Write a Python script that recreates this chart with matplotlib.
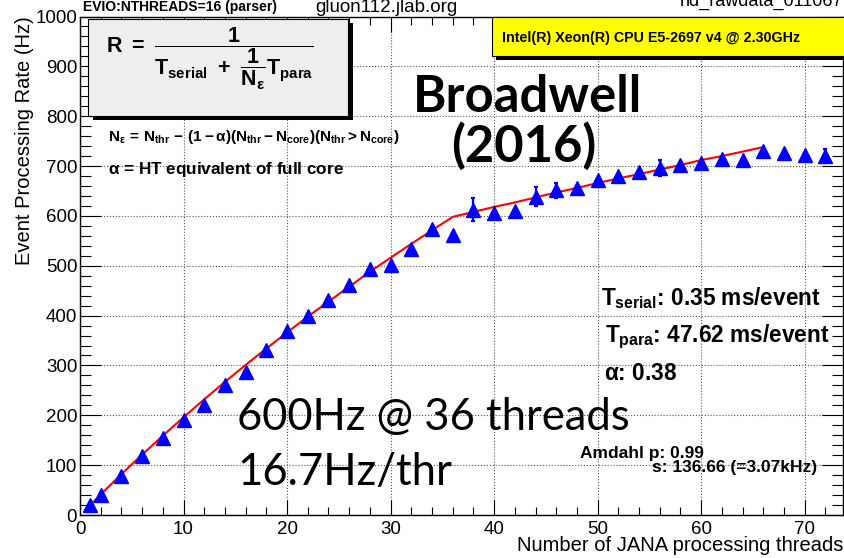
import matplotlib
matplotlib.use("Agg")
import matplotlib.pyplot as plt
from matplotlib.patches import Rectangle
from matplotlib.ticker import MultipleLocator

# measured rate vs number of threads
threads = [1, 2, 4, 6, 8, 10, 12, 14, 16, 18, 20, 22, 24, 26, 28, 30, 32, 34,
           36, 38, 40, 42, 44, 46, 48, 50, 52, 54, 56, 58, 60, 62, 64, 66,
           68, 70, 72]
rate = [20, 41, 78, 118, 154, 190, 220, 261, 287, 330, 369, 400, 432, 461,
        493, 502, 534, 573, 562, 612, 605, 610, 638, 651, 655, 672, 680, 689,
        697, 702, 707, 715, 713, 730, 727, 723, 720]
err_threads = [38, 44, 46, 56, 72]
err_rate = [612, 638, 651, 697, 720]
err_size = [23, 19, 15, 16, 14]

# fitted curve
fit_threads = [0.5, 2, 4, 6, 8, 10, 12, 14, 16, 18, 20, 22, 24, 26, 28, 30,
               32, 34, 36, 38, 40, 42, 44, 46, 48, 50, 52, 54, 56, 58, 60,
               62, 64, 66]
fit_rate = [10, 41, 82, 121, 159, 196, 232, 267, 301, 334, 366, 398, 428,
            458, 488, 516, 544, 571, 598, 608, 618, 627, 637, 647, 656, 666,
            675, 684, 693, 702, 712, 720, 729, 738]

W, H = 844, 558
plt.rcParams["font.family"] = ["Liberation Sans", "DejaVu Sans"]
plt.rcParams["mathtext.fontset"] = "custom"
plt.rcParams["mathtext.rm"] = "Liberation Sans:bold"
plt.rcParams["mathtext.it"] = "Liberation Sans:bold"
plt.rcParams["mathtext.bf"] = "Liberation Sans:bold"
plt.rcParams["mathtext.sf"] = "Liberation Sans:bold"


def fx(x):
    return x / W


def fy(y):
    return 1 - y / H


fig = plt.figure(figsize=(W / 100, H / 100), dpi=100)
ax = fig.add_axes([fx(80), fy(515), fx(843) - fx(80), fy(16.5) - fy(515)])

ax.plot(fit_threads, fit_rate, color="red", lw=1.5, zorder=3)
ax.errorbar(err_threads, err_rate, yerr=err_size, fmt="none", ecolor="blue",
            elinewidth=1.6, capsize=1.5, capthick=1.6, zorder=4)
ax.plot(threads, rate, "^", color="blue", ms=9.5, mec="blue", zorder=5)

ax.set_xlim(0, 73.7)
ax.set_ylim(0, 1000)
ax.xaxis.set_major_locator(MultipleLocator(10))
ax.xaxis.set_minor_locator(MultipleLocator(2))
ax.yaxis.set_major_locator(MultipleLocator(100))
ax.yaxis.set_minor_locator(MultipleLocator(20))
ax.tick_params(which="both", direction="in", top=True, right=True,
               width=0.8, labelsize=13.5, color="black")
ax.tick_params(axis="x", which="major", length=11, pad=4)
ax.tick_params(axis="x", which="minor", length=5.5)
ax.tick_params(axis="y", which="major", length=15, pad=2)
ax.tick_params(axis="y", which="minor", length=8)
ax.grid(True, which="major", linestyle=":", color="#555555", lw=0.8)
for s in ax.spines.values():
    s.set_linewidth(1)

ax.set_ylabel("Event Processing Rate (Hz)", fontsize=14.5, loc="top",
              labelpad=1)
ax.set_xlabel("Number of JANA processing threads", fontsize=14.5, loc="right",
              labelpad=-1)

# header texts
fig.text(fx(83), fy(11), "EVIO:NTHREADS=16 (parser)", fontsize=10,
         fontweight="bold", va="baseline")
fig.text(fx(315), fy(12), "gluon112.jlab.org", fontsize=13.5, va="baseline")
fig.text(fx(680), fy(6), "hd_rawdata_011067", fontsize=13, va="baseline")

# yellow cpu box
fig.add_artist(Rectangle((fx(496), fy(60)), fx(844) - fx(496), fy(20) - fy(60),
                         transform=fig.transFigure, fc="black", ec="none",
                         zorder=5))
fig.add_artist(Rectangle((fx(492), fy(56)), fx(846) - fx(492), fy(17) - fy(56),
                         transform=fig.transFigure, fc="yellow", ec="black",
                         lw=0.8, zorder=6))
fig.text(fx(502), fy(42), "Intel(R) Xeon(R) CPU E5-2697 v4 @ 2.30GHz",
         fontsize=10.3, fontweight="bold", va="baseline", zorder=7)

# formula box
fig.add_artist(Rectangle((fx(93), fy(120)), fx(353) - fx(93), fy(23) - fy(120),
                         transform=fig.transFigure, fc="black", ec="none",
                         zorder=5))
fig.add_artist(Rectangle((fx(88), fy(116)), fx(348) - fx(88), fy(19) - fy(116),
                         transform=fig.transFigure, fc="#eeeeee", ec="black",
                         lw=0.8, zorder=6))
fig.text(fx(106), fy(59),
         r"$R\ =\ \dfrac{1}{T_{serial}\ +\ \dfrac{1}{N_{\varepsilon}}T_{para}}$",
         fontsize=15.5, va="center", zorder=7)

fig.text(fx(108), fy(141),
         r"$N_{\varepsilon}\,=\,N_{thr}\,-\,(1-\alpha)(N_{thr}-N_{core})(N_{thr}>N_{core})$",
         fontsize=11, va="baseline", zorder=7)
fig.text(fx(108), fy(174), r"$\alpha$ = HT equivalent of full core",
         fontsize=12.3, fontweight="bold", va="baseline", zorder=7)

fig.text(fx(413), fy(112), "Broadwell", family="Lato", fontsize=36.5,
         fontweight="bold", va="baseline", zorder=7)
fig.text(fx(451), fy(162), "(2016)", family="Lato", fontsize=36.5,
         fontweight="bold", va="baseline", zorder=7)

fig.text(fx(601), fy(305), r"$T_{serial}$: 0.35 ms/event", fontsize=16.3,
         fontweight="bold", va="baseline", zorder=7)
fig.text(fx(605), fy(342), r"$T_{para}$: 47.62 ms/event", fontsize=16.3,
         fontweight="bold", va="baseline", zorder=7)
fig.text(fx(604), fy(380), r"$\alpha$: 0.38", fontsize=16.3,
         fontweight="bold", va="baseline", zorder=7)

fig.text(fx(580), fy(458), "Amdahl p: 0.99", fontsize=12.5,
         fontweight="bold", va="baseline", zorder=7)
fig.text(fx(652), fy(472), "s: 136.66 (=3.07kHz)", fontsize=12.5,
         fontweight="bold", va="baseline", zorder=7)

fig.text(fx(237), fy(430), "600Hz @ 36 threads", family="Lato", fontsize=31.4,
         va="baseline", zorder=7)
fig.text(fx(237), fy(485), "16.7Hz/thr", family="Lato", fontsize=31.4,
         va="baseline", zorder=7)

fig.savefig("out.png", dpi=100)
